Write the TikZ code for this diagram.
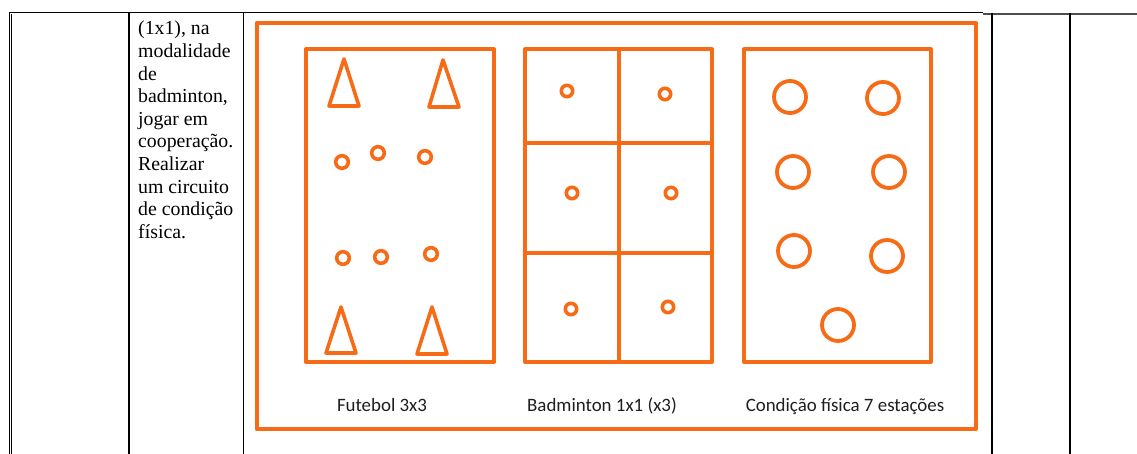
\documentclass[tikz,border=0pt]{standalone}
\usepackage{fontspec}
\setmainfont{Liberation Serif}
\newfontfamily\cellfont{Liberation Serif}
\newfontfamily\labelfont{Carlito}
\definecolor{org}{RGB}{247,106,22}
\definecolor{lbl}{RGB}{30,30,30}
\tikzset{
  tline/.style={black,line width=1.6pt},
  obox/.style={draw=org,line width=4pt,line join=round},
  cone/.style={draw=org,line width=3.6pt,line join=round},
  ball/.style={draw=org,line width=3.6pt},
  station/.style={draw=org,line width=3.8pt},
  caption/.style={font=\labelfont\fontsize{18.9}{22}\selectfont,text=lbl,inner sep=0pt,anchor=base},
  celltext/.style={font=\cellfont\fontsize{19.8}{22.6}\selectfont,inner sep=0pt,anchor=base west}
}
\begin{document}
\begin{tikzpicture}[x=1pt,y=-1pt]
\useasboundingbox (0,0) rectangle (1137,454);
% table lines
\draw[black,line width=1.2pt] (9,12.5) -- (983,12.5);
\draw[black!70,line width=2pt] (983,14) -- (1137,14);
\draw[black,line width=1pt] (9,12.5) -- (9,454);
\draw[black,line width=1pt] (11.8,14) -- (11.8,454);
\draw[tline] (129,13) -- (129,454);
\draw[tline] (243.5,13) -- (243.5,454);
\draw[tline] (992,13) -- (992,454);
\draw[tline] (1070,13) -- (1070,454);
% cell text
\foreach \t [count=\i] in {{(1x1), na},modalidade,de,{badminton,},jogar em,{cooperação.},Realizar,um circuito,de condição,física.}{
  \node[celltext] (l\i) at (138,{35+(\i-1)*22.6}) {\t};
}
% outer orange frame
\draw[obox] (256.5,23.5) rectangle (976,429);
% futebol field
\draw[obox] (305.5,49.5) rectangle (494,362);
\draw[cone] (344,59) -- (359,106) -- (329,106) -- cycle;
\draw[cone] (443,60) -- (459,107) -- (429,107) -- cycle;
\draw[cone] (341,307) -- (356,353) -- (326,353) -- cycle;
\draw[cone] (432,307) -- (447,354) -- (417,354) -- cycle;
\foreach \p in {(342,162),(378,153),(425,157),(343,258),(381,257),(431,254)}
  \draw[ball] \p circle[radius=6.3pt];
% badminton courts
\draw[obox] (525,49.5) rectangle (712,362);
\draw[obox] (619,49.5) -- (619,362);
\draw[obox] (525,143) -- (712,143);
\draw[obox] (525,253) -- (712,253);
\foreach \p in {(567,91),(665,94),(572,193),(671,193),(571,309),(668,307)}
  \draw[ball] \p circle[radius=5.7pt];
% condicao fisica
\draw[obox] (744,49.5) rectangle (931,362);
\foreach \p in {(790,97),(883,98),(793,172),(889,172),(794,251),(887,256),(838,325)}
  \draw[station] \p circle[radius=16pt];
% captions
\node[caption] (c1) at (382,411.5) {Futebol 3x3};
\node[caption] (c2) at (602,411.5) {Badminton 1x1 (x3)};
\node[caption] (c3) at (845,411.5) {Condição física 7 estações};
\end{tikzpicture}
\end{document}
